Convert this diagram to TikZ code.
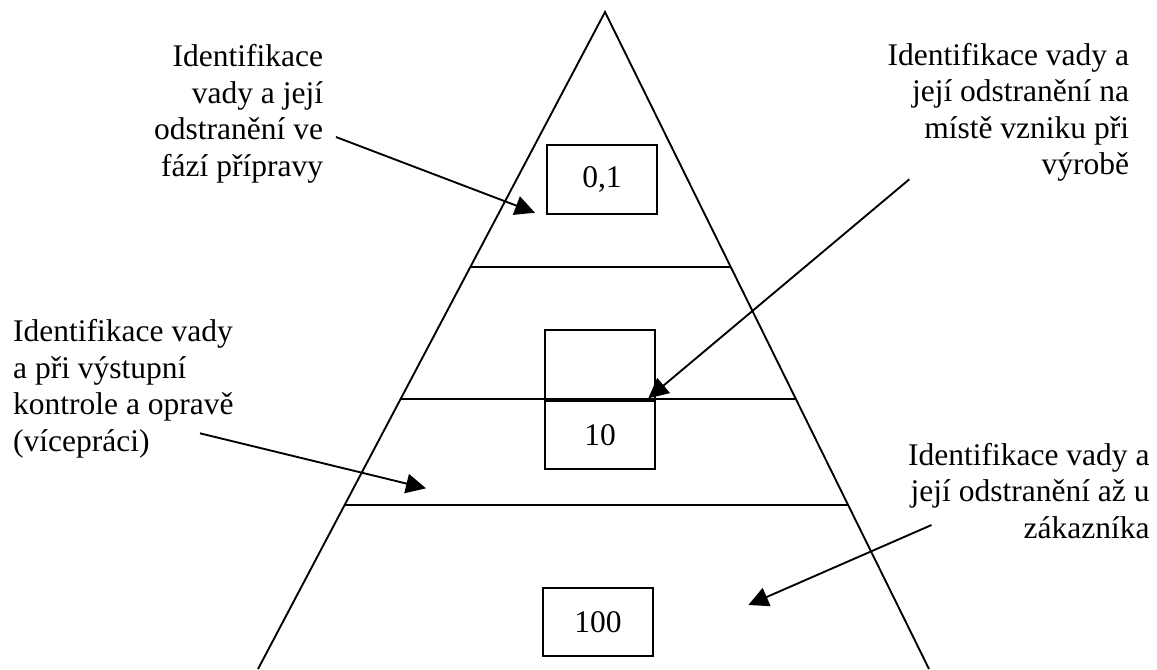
\documentclass[tikz,border=0pt]{standalone}
\usepackage{fontspec}
\setmainfont{Liberation Serif}
\usetikzlibrary{arrows.meta,calc}
\begin{document}
\begin{tikzpicture}[x=0.4pt,y=-0.4pt,
  every node/.style={font=\fontsize{12.6}{14.6}\selectfont},
  edge/.style={line width=0.75pt,black},
  valbox/.style={draw,line width=0.75pt,rectangle,inner sep=0pt,
    minimum width=44pt,minimum height=27.4pt},
  lbl/.style={inner sep=0pt},
  pointer/.style={line width=0.75pt,-{Triangle[length=8pt,width=7.8pt]}}]
\useasboundingbox (0,0) rectangle (1157,669);

% pyramid outline (open at the bottom)
\coordinate (apex) at (605,12);
\coordinate (baseL) at (258,669);
\coordinate (baseR) at (929,669);
\draw[edge] (baseL) -- (apex) -- (baseR);

% level dividers
\draw[edge] ($(apex)!0.3881!(baseL)$) -- ($(apex)!0.3881!(baseR)$);
\draw[edge] ($(apex)!0.5890!(baseL)$) -- ($(apex)!0.5890!(baseR)$);
\draw[edge] ($(apex)!0.7504!(baseL)$) -- ($(apex)!0.7504!(baseR)$);

% cost boxes
\node[valbox] (b01) at (602,179.5) {0,1};
\node[valbox] (bmid) at (600,364.5) {};
\node[valbox,anchor=north] (b10) at (bmid.south) {10};
\node[valbox] (b100) at (598,622) {100};

% labels
\node[lbl,anchor=base east] (lt) at (323.5,66.7)
  {\begin{tabular}[t]{@{}r@{}}Identifikace\\vady a její\\odstranění ve\\fází přípravy\end{tabular}};
\node[lbl,anchor=base east] (rt) at (1129.5,65)
  {\begin{tabular}[t]{@{}r@{}}Identifikace vady a\\její odstranění na\\místě vzniku při\\výrobě\end{tabular}};
\node[lbl,anchor=base west] (lm) at (12.7,341.7)
  {\begin{tabular}[t]{@{}l@{}}Identifikace vady\\a při výstupní\\kontrole a opravě\\(vícepráci)\end{tabular}};
\node[lbl,anchor=base east] (rb) at (1150,465)
  {\begin{tabular}[t]{@{}r@{}}Identifikace vady a\\její odstranění až u\\zákazníka\end{tabular}};

% pointers
\coordinate (p1s) at (336,137);
\coordinate (p1e) at (535,212.7);
\coordinate (p2s) at (909.3,179.3);
\coordinate (p2e) at (648.3,398.3);
\coordinate (p3s) at (200,433.3);
\coordinate (p3e) at (426,488.3);
\coordinate (p4s) at (931.5,525);
\coordinate (p4e) at (748.3,605);
\draw[pointer] (p1s) -- (p1e);
\draw[pointer] (p2s) -- (p2e);
\draw[pointer] (p3s) -- (p3e);
\draw[pointer] (p4s) -- (p4e);
\end{tikzpicture}
\end{document}
